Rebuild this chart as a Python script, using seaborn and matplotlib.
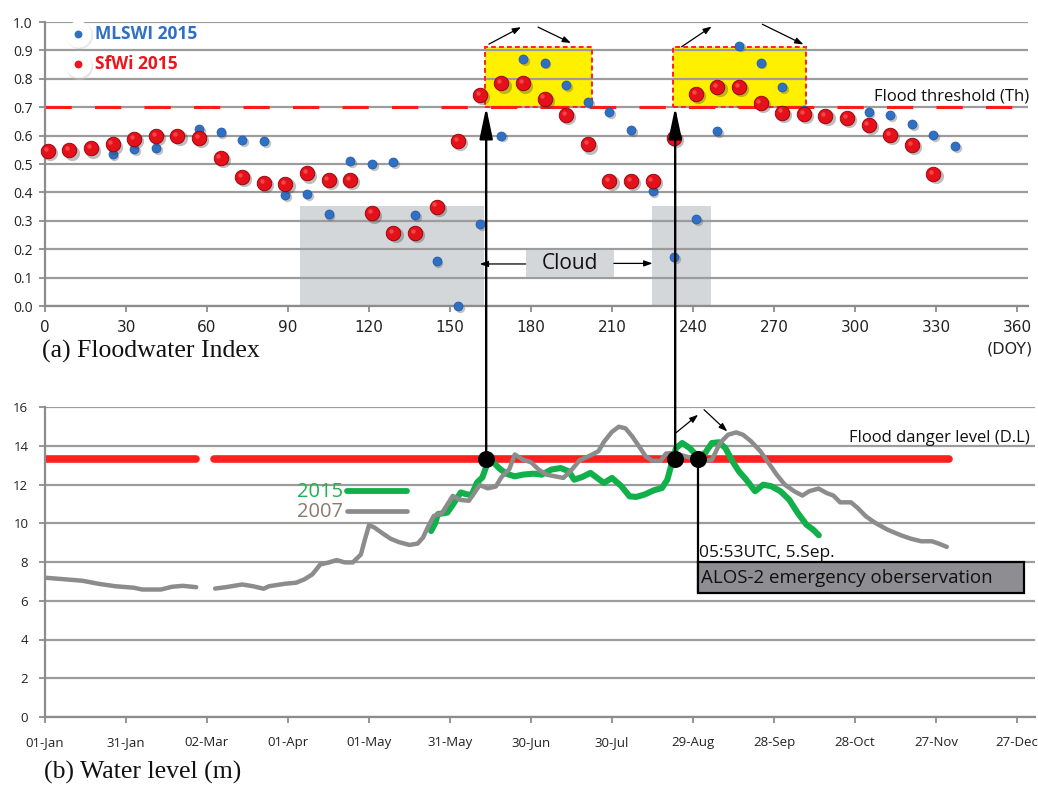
import numpy as np
import pandas as pd
import matplotlib
matplotlib.use("Agg")
import matplotlib.pyplot as plt
import matplotlib.transforms as mtransforms
from matplotlib.patches import Rectangle, ConnectionPatch
import seaborn as sns

# ---------------------------------------------------------------------------
# (a) Floodwater indices from 8-day composites, 2015 (day of year)
# ---------------------------------------------------------------------------
sfwi_doy = [1, 9, 17, 25, 33, 41, 49, 57, 65, 73, 81, 89, 97, 105, 113, 121,
            129, 137, 145, 153, 161, 169, 177, 185, 193, 201, 209, 217, 225,
            233, 241, 249, 257, 265, 273, 281, 289, 297, 305, 313, 321, 329]
sfwi_2015 = [0.545, 0.548, 0.555, 0.569, 0.588, 0.599, 0.599, 0.592, 0.521,
             0.454, 0.433, 0.430, 0.467, 0.444, 0.444, 0.326, 0.258, 0.258,
             0.350, 0.581, 0.743, 0.784, 0.784, 0.730, 0.673, 0.569, 0.441,
             0.441, 0.441, 0.593, 0.747, 0.772, 0.772, 0.714, 0.681, 0.676,
             0.669, 0.663, 0.637, 0.602, 0.567, 0.465]

mlswi_doy = [25, 33, 41, 57, 65, 73, 81, 89, 97, 105, 113, 121, 129, 137,
             145, 153, 161, 169, 177, 185, 193, 201, 209, 217, 225, 233, 241,
             249, 257, 265, 273, 281, 305, 313, 321, 329, 337]
mlswi_2015 = [0.535, 0.552, 0.555, 0.624, 0.611, 0.583, 0.581, 0.391, 0.393,
              0.325, 0.511, 0.500, 0.508, 0.320, 0.158, 0.000, 0.288, 0.600,
              0.870, 0.857, 0.778, 0.719, 0.684, 0.620, 0.405, 0.171, 0.306,
              0.616, 0.917, 0.857, 0.772, 0.690, 0.683, 0.671, 0.640, 0.602,
              0.563]

flood_threshold = 0.7
doy_ticks = [0, 30, 60, 90, 120, 150, 180, 210, 240, 270, 300, 330, 360]

# ---------------------------------------------------------------------------
# (b) Water level (m), days counted from 01-Jan
# ---------------------------------------------------------------------------
wl2007_day = [0, 8, 14, 20, 26, 33, 36, 43, 47, 51, 56,
              63, 67, 73, 77, 81, 83, 89, 93, 96, 99, 102, 105, 108, 111, 114,
              117, 118.5, 120, 122, 125, 128, 131, 135, 138, 140, 142, 144,
              147, 151, 154, 157, 161, 164, 167, 169, 172, 174, 177, 180, 183,
              186, 189, 192, 195, 198, 202, 205, 207, 210, 212.5, 215, 217.5,
              220, 222.5, 225, 228, 230, 233, 236, 240, 244, 247, 250, 253,
              256, 258.5, 261.5, 265, 268, 271, 274, 277.5, 280.5, 283, 286.5,
              289.5, 292, 294.5, 298.5, 301, 304, 307.5, 312, 317, 320.5,
              324.5, 328.5, 331, 334]
wl2007_level = [7.19, 7.10, 7.03, 6.87, 6.75, 6.67, 6.58, 6.58, 6.72, 6.77,
                6.70,
                6.63, 6.70, 6.84, 6.75, 6.62, 6.75, 6.88, 6.93, 7.10, 7.36,
                7.88, 7.97, 8.10, 7.98, 7.98, 8.39, 9.17, 9.90, 9.78, 9.48,
                9.20, 9.03, 8.88, 8.95, 9.26, 9.86, 10.38, 10.52, 11.41, 11.20,
                11.16, 11.97, 11.80, 11.90, 12.37, 12.80, 13.55, 13.28, 13.15,
                12.75, 12.50, 12.42, 12.34, 12.75, 13.25, 13.50, 13.72, 14.20,
                14.72, 14.98, 14.90, 14.48, 13.97, 13.45, 13.22, 13.22, 13.60,
                13.62, 13.50, 13.35, 13.20, 13.28, 14.14, 14.57, 14.69, 14.57,
                14.23, 13.71, 13.11, 12.51, 11.99, 11.65, 11.43, 11.65, 11.79,
                11.56, 11.43, 11.08, 11.08, 10.79, 10.36, 10.02, 9.67, 9.38,
                9.21, 9.07, 9.07, 8.95, 8.78]
# record is interrupted in late February
wl2007_part = ["Jan-Feb"] * 11 + ["Mar-Nov"] * 89

wl2015_day = [143, 144.5, 145.5, 149, 151, 154, 156, 158, 160, 162, 163.6, 166,
              168.5, 171, 174, 177, 181, 184, 187.5, 191, 194, 196, 199, 202,
              204.5, 207, 210, 213.5, 216.5, 219, 222, 225.5, 228.5, 230.5,
              232, 233.7, 236, 238.8, 242, 244.5, 247, 249.6, 252, 254.6, 257,
              259.7, 263, 266, 269, 272.4, 275.6, 278.8, 282, 284.5, 286.6]
wl2015_level = [9.60, 10.00, 10.47, 10.55, 10.95, 11.59, 11.50, 11.45, 12.10,
                12.37, 13.00, 13.15, 12.80, 12.55, 12.42, 12.51, 12.56, 12.51,
                12.77, 12.85, 12.68, 12.25, 12.39, 12.60, 12.34, 12.08, 12.34,
                11.91, 11.39, 11.36, 11.48, 11.70, 11.82, 12.25, 13.02, 13.88,
                14.14, 13.88, 13.40, 13.63, 14.14, 14.18, 13.88, 13.20, 12.68,
                12.25, 11.65, 11.99, 11.91, 11.65, 11.22, 10.53, 9.93, 9.67,
                9.38]

danger_level = 13.3
danger_spans = [(0, 56), (62.5, 335)]
crossing_days = [163.4, 233.4, 241.7]

date_ticks = [0, 30, 60, 90, 120, 150, 180, 210, 240, 270, 300, 330, 360]
date_labels = ["01-Jan", "31-Jan", "02-Mar", "01-Apr", "01-May", "31-May",
               "30-Jun", "30-Jul", "29-Aug", "28-Sep", "28-Oct", "27-Nov",
               "27-Dec"]

# ---------------------------------------------------------------------------
sns.set_theme(style="white")
plt.rcParams["font.family"] = ["Open Sans", "DejaVu Sans"]
NARROW = ["Liberation Sans Narrow", "DejaVu Sans"]
SERIF = ["Liberation Serif", "DejaVu Serif"]

GRID = "#9c9c9c"
RED = "#ee141c"
BLUE = "#2f6fc4"
GREEN = "#12b04b"
GREY = "#8c8c8c"
CLOUD = "#d3d7d9"

W, H = 1038, 787
PX = 2.7  # pixels per day
fig = plt.figure(figsize=(W / 100, H / 100), dpi=100)
ax_a = fig.add_axes([45 / W, 1 - 306 / H, 364 * PX / W, 284 / H])
ax_b = fig.add_axes([45 / W, 1 - 717 / H, 366.5 * PX / W, 310 / H])


def style_axes(ax):
    ax.grid(axis="y", color=GRID, lw=1.6)
    ax.grid(axis="x", visible=False)
    ax.set_axisbelow(True)
    for s in ("top", "right"):
        ax.spines[s].set_visible(False)
    for s in ("left", "bottom"):
        ax.spines[s].set_color(GREY)
        ax.spines[s].set_linewidth(1.6)
    ax.tick_params(axis="both", direction="out", length=4, width=1.3,
                   color=GREY, labelcolor="#222222", left=True, bottom=True)


def offset(ax, dx, dy):
    return mtransforms.offset_copy(ax.transData, fig=fig, x=dx, y=dy,
                                   units="dots")


# ============================ panel (a) ====================================
style_axes(ax_a)

# cloud-covered periods
for x0, x1 in [(94.4, 162.6), (224.7, 246.7)]:
    ax_a.add_patch(Rectangle((x0, 0), x1 - x0, 0.353, fc=CLOUD, ec="none",
                             zorder=0.2))
# periods above the flood threshold
for x0, x1 in [(163.0, 202.7), (232.5, 281.9)]:
    ax_a.add_patch(Rectangle((x0, 0.7), x1 - x0, 0.213, fc="#fff000",
                             ec="none", zorder=0.2))
    ax_a.add_patch(Rectangle((x0, 0.7), x1 - x0, 0.213, fc="none", ec="#ff2020",
                             ls=(0, (2.5, 1.6)), lw=1.4, zorder=1.2))

ax_a.axhline(flood_threshold, color="#ff1a1a", lw=2.2, dashes=(8.6, 7.6),
             zorder=1.1)
ax_a.text(364.5, 0.737, "Flood threshold (Th)", ha="right", va="center",
          fontsize=12, color="#111111", zorder=6)

df_sfwi = pd.DataFrame({"doy": sfwi_doy, "index": sfwi_2015})
df_mlswi = pd.DataFrame({"doy": mlswi_doy, "index": mlswi_2015})

# shaded spheres: drop shadow, body, highlight
sns.scatterplot(data=df_mlswi, x="doy", y="index", ax=ax_a, s=46,
                color="#555555", alpha=0.35, linewidth=0, legend=False,
                transform=offset(ax_a, 1.8, -1.8), zorder=2, clip_on=False)
sns.scatterplot(data=df_mlswi, x="doy", y="index", ax=ax_a, s=42, color=BLUE,
                edgecolor="#1f57a3", linewidth=0.5, legend=False, zorder=3,
                clip_on=False)
sns.scatterplot(data=df_sfwi, x="doy", y="index", ax=ax_a, s=120,
                color="#444444", alpha=0.35, linewidth=0, legend=False,
                transform=offset(ax_a, 2.2, -2.2), zorder=3.5, clip_on=False)
sns.scatterplot(data=df_sfwi, x="doy", y="index", ax=ax_a, s=110,
                color="#e4101a", edgecolor="#8f0008", linewidth=0.6,
                legend=False, zorder=4, clip_on=False)
sns.scatterplot(data=df_sfwi, x="doy", y="index", ax=ax_a, s=10,
                color="#ff5c5c", alpha=0.7, linewidth=0, legend=False,
                transform=offset(ax_a, -2.2, 2.2), zorder=4.5, clip_on=False)

ax_a.set_xlim(0, 364)
ax_a.set_ylim(0, 1.0)
ax_a.set_xlabel("")
ax_a.set_ylabel("")
ax_a.set_yticks(np.arange(0, 1.01, 0.1))
ax_a.set_yticklabels([f"{v:.1f}" for v in np.arange(0, 1.01, 0.1)], fontsize=10)
ax_a.set_xticks(doy_ticks)
ax_a.set_xticklabels([str(t) for t in doy_ticks], fontsize=11, family=NARROW)
ax_a.tick_params(axis="x", pad=6)
ax_a.tick_params(axis="y", pad=5)

# legend
for y, col, label in [(0.958, BLUE, "MLSWI 2015"), (0.852, RED, "SfWi 2015")]:
    ax_a.scatter([12.2], [y], s=380, c="#c8c8c8", alpha=0.45, linewidths=0,
                 transform=offset(ax_a, 1.5, -1.5), zorder=5, clip_on=False)
    ax_a.scatter([12.2], [y], s=360, c="white", linewidths=0, zorder=5.1,
                 clip_on=False)
    ax_a.scatter([12.2], [y], s=32, c=col, linewidths=0, zorder=5.2,
                 clip_on=False)
    ax_a.text(18.7, y, label, ha="left", va="center", fontsize=12.5,
              fontweight="bold", color=col, zorder=6)

# cloud label
ax_a.add_patch(Rectangle((178, 0.102), 32.7, 0.095, fc=CLOUD, ec="none",
                         zorder=5))
ax_a.text(194.3, 0.149, "Cloud", ha="center", va="center", fontsize=15,
          color="#111111", zorder=6)
arrow_thin = dict(arrowstyle="-|>,head_length=0.5,head_width=0.18",
                  color="black", lw=0.9, shrinkA=0, shrinkB=0,
                  mutation_scale=10)
ax_a.annotate("", xy=(161.0, 0.148), xytext=(178, 0.148),
              arrowprops=arrow_thin, zorder=6)
ax_a.annotate("", xy=(225.0, 0.150), xytext=(210.7, 0.150),
              arrowprops=arrow_thin, zorder=6)

# rising / falling arrows above the flooded periods
for (x0, y0), (x1, y1) in [((164.4, 0.922), (176.3, 0.982)),
                           ((182.6, 0.982), (194.8, 0.926)),
                           ((235.8, 0.913), (246.9, 0.984)),
                           ((265.7, 0.992), (280.9, 0.921))]:
    ax_a.annotate("", xy=(x1, y1), xytext=(x0, y0), arrowprops=arrow_thin,
                  annotation_clip=False, zorder=6)

# ============================ panel (b) ====================================
style_axes(ax_b)

for x0, x1 in danger_spans:
    ax_b.plot([x0, x1], [danger_level, danger_level], color="#ff1f1f",
              lw=5.5, solid_capstyle="round", zorder=2)

df2015 = pd.DataFrame({"day": wl2015_day, "level": wl2015_level})
df2007 = pd.DataFrame({"day": wl2007_day, "level": wl2007_level,
                       "part": wl2007_part})
sns.lineplot(data=df2015, x="day", y="level", ax=ax_b, color=GREEN, lw=4.4,
             sort=False, estimator=None, legend=False, zorder=3,
             solid_capstyle="round", solid_joinstyle="round")
sns.lineplot(data=df2007, x="day", y="level", units="part", ax=ax_b,
             color=GREY, lw=3.2, sort=False, estimator=None, legend=False,
             zorder=4, solid_capstyle="round", solid_joinstyle="round")

ax_b.set_xlim(0, 366.5)
ax_b.set_ylim(0, 16)
ax_b.set_xlabel("")
ax_b.set_ylabel("")
ax_b.set_yticks(range(0, 17, 2))
ax_b.set_yticklabels([str(v) for v in range(0, 17, 2)], fontsize=9.5)
ax_b.set_xticks(date_ticks)
ax_b.set_xticklabels(date_labels, fontsize=9.5)
ax_b.tick_params(axis="x", pad=10)
ax_b.tick_params(axis="y", pad=8)

# legend for the water level records
ax_b.text(110.5, 11.6, "2015", ha="right", va="center", fontsize=14.5,
          color="#1db34f", zorder=6)
ax_b.plot([112, 134], [11.65, 11.65], color=GREEN, lw=4.2, zorder=6)
ax_b.text(110.5, 10.58, "2007", ha="right", va="center", fontsize=14.5,
          color="#8b7b6e", zorder=6)
ax_b.plot([112, 134], [10.62, 10.62], color=GREY, lw=3.4, zorder=6)

ax_b.text(364.8, 14.42, "Flood danger level (D.L)", ha="right", va="center",
          fontsize=12, color="#111111", zorder=6)

# crossing points of the flood danger level
ax_b.scatter(crossing_days, [danger_level] * 3, s=150, c="black",
             linewidths=0, zorder=7)

# ALOS-2 observation callout
ax_b.plot([crossing_days[2], crossing_days[2]], [danger_level, 6.38],
          color="black", lw=1.6, zorder=6)
ax_b.add_patch(Rectangle((crossing_days[2], 6.38), 362.6 - crossing_days[2],
                         7.99 - 6.38, fc="#8e8e92", ec="black", lw=1.6,
                         zorder=6))
ax_b.text(243.0, 7.17, "ALOS-2 emergency oberservation", ha="left",
          va="center", fontsize=13.5, color="#111111", zorder=7)
ax_b.text(242.3, 8.45, "05:53UTC, 5.Sep.", ha="left", va="center",
          fontsize=12.5, color="#111111", zorder=7)

for (x0, y0), (x1, y1) in [((233.6, 14.66), (241.9, 15.6)),
                           ((244.1, 15.86), (252.7, 14.74))]:
    ax_b.annotate("", xy=(x1, y1), xytext=(x0, y0), arrowprops=arrow_thin,
                  zorder=6)

# links from the crossing points to the index panel
for d in crossing_days[:2]:
    con = ConnectionPatch(xyA=(d, danger_level), coordsA=ax_b.transData,
                          xyB=(d, flood_threshold), coordsB=ax_a.transData,
                          arrowstyle="-|>,head_length=0.95,head_width=0.2",
                          mutation_scale=20, lw=1.7, color="black",
                          zorder=10)
    fig.add_artist(con)

# panel captions
fig.text(42 / W, 1 - 351 / H, "(a) Floodwater Index", fontsize=18.5,
         family=SERIF, va="center", ha="left", color="#111111")
fig.text(1033 / W, 1 - 349 / H, "(DOY)", fontsize=11.5, family=NARROW,
         va="center", ha="right", color="#222222")
fig.text(44 / W, 1 - 772 / H, "(b) Water level (m)", fontsize=18.5,
         family=SERIF, va="center", ha="left", color="#111111")

fig.savefig("out.png", dpi=100)
